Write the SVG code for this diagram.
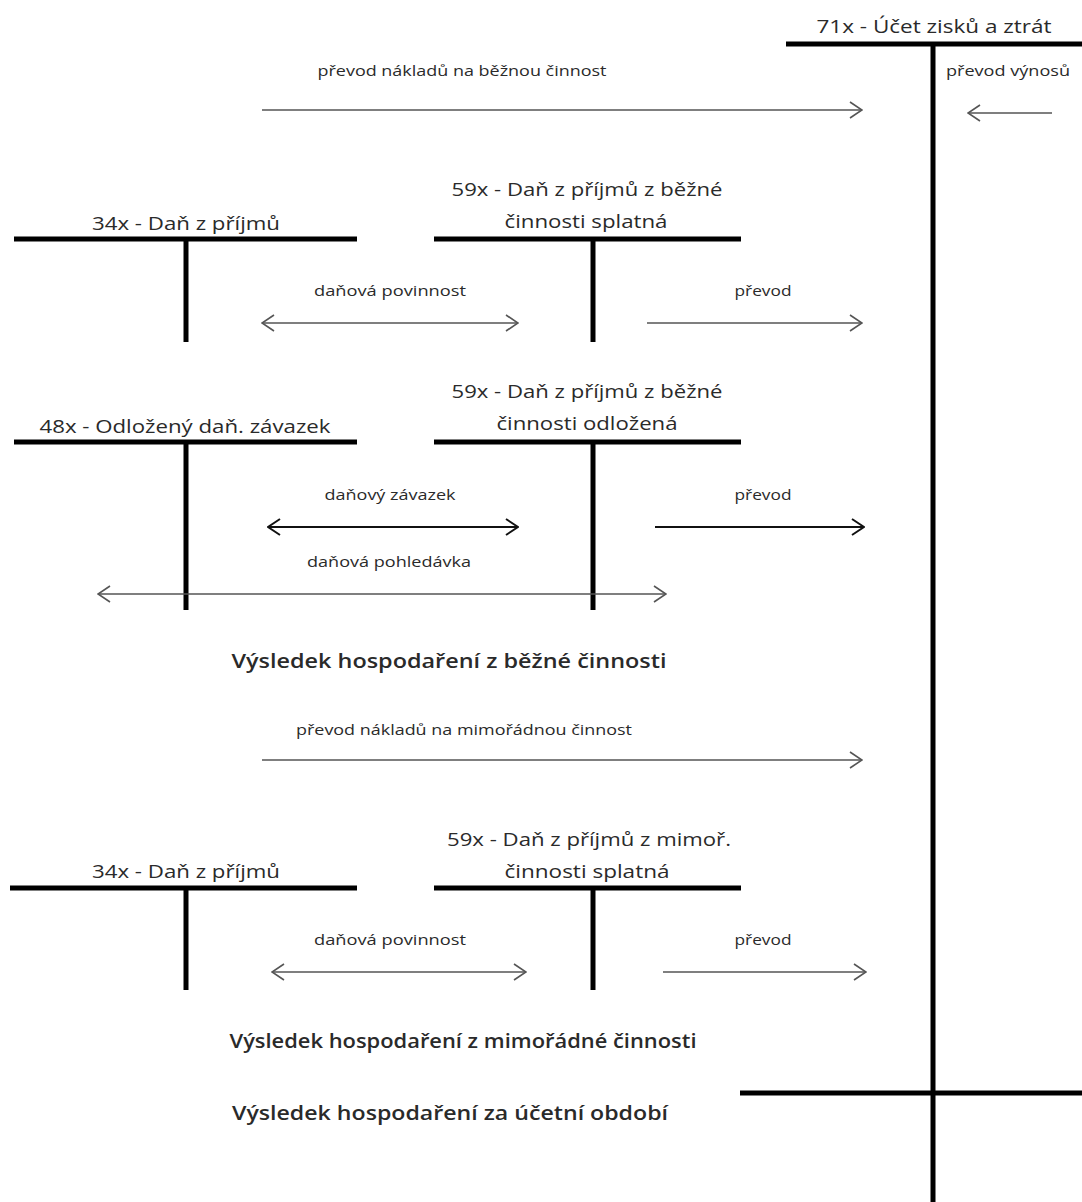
<svg xmlns="http://www.w3.org/2000/svg" width="1082" height="1202" viewBox="0 0 1082 1202">
<style>
.bar{stroke:#000;stroke-width:5;fill:none}
.t{font-family:"Open Sans","Liberation Sans",sans-serif;fill:#2a2a2a;text-anchor:middle}
.big{font-size:19px}
.sm{font-size:14px}
.res{font-size:19px;font-weight:600}
.a{stroke:#555;stroke-width:1.6;fill:none;marker-end:url(#hg)}
.ab{stroke:#555;stroke-width:1.6;fill:none;marker-end:url(#hg);marker-start:url(#hg)}
.k{stroke:#111;stroke-width:2;fill:none;marker-end:url(#hk)}
.kb{stroke:#111;stroke-width:2;fill:none;marker-end:url(#hk);marker-start:url(#hk)}
</style>
<defs>
<marker id="hg" viewBox="0 0 14 18" refX="13" refY="9" markerWidth="14" markerHeight="18" markerUnits="userSpaceOnUse" orient="auto-start-reverse">
<path d="M1,1 L13,9 L1,17" fill="none" stroke="#555" stroke-width="1.6"/>
</marker>
<marker id="hk" viewBox="0 0 14 18" refX="13" refY="9" markerWidth="14" markerHeight="18" markerUnits="userSpaceOnUse" orient="auto-start-reverse">
<path d="M1,1 L13,9 L1,17" fill="none" stroke="#111" stroke-width="2"/>
</marker>
</defs>
<rect width="1082" height="1202" fill="#fff"/>

<g id="ucet-71x">
<line class="bar" x1="786" y1="44" x2="1082" y2="44"/>
<line class="bar" x1="933" y1="44" x2="933" y2="1202"/>
<line class="bar" x1="740" y1="1093" x2="1082" y2="1093"/>
<text class="t big" x="934" y="33" textLength="235" lengthAdjust="spacingAndGlyphs">71x - Účet zisků a ztrát</text>
</g>

<g id="ucet-34x-a">
<line class="bar" x1="14" y1="239" x2="357" y2="239"/>
<line class="bar" x1="186" y1="239" x2="186" y2="342"/>
<text class="t big" x="186" y="230" textLength="188" lengthAdjust="spacingAndGlyphs">34x - Daň z příjmů</text>
</g>

<g id="ucet-59x-a">
<line class="bar" x1="434" y1="239" x2="741" y2="239"/>
<line class="bar" x1="593" y1="239" x2="593" y2="342"/>
<text class="t big" x="587" y="196" textLength="271" lengthAdjust="spacingAndGlyphs">59x - Daň z příjmů z běžné</text>
<text class="t big" x="586" y="228" textLength="163" lengthAdjust="spacingAndGlyphs">činnosti splatná</text>
</g>

<g id="ucet-48x">
<line class="bar" x1="14" y1="442" x2="357" y2="442"/>
<line class="bar" x1="186" y1="442" x2="186" y2="610"/>
<text class="t big" x="185" y="433" textLength="291" lengthAdjust="spacingAndGlyphs">48x - Odložený daň. závazek</text>
</g>

<g id="ucet-59x-b">
<line class="bar" x1="434" y1="442" x2="741" y2="442"/>
<line class="bar" x1="593" y1="442" x2="593" y2="610"/>
<text class="t big" x="587" y="398" textLength="271" lengthAdjust="spacingAndGlyphs">59x - Daň z příjmů z běžné</text>
<text class="t big" x="587" y="430" textLength="181" lengthAdjust="spacingAndGlyphs">činnosti odložená</text>
</g>

<g id="ucet-34x-b">
<line class="bar" x1="10" y1="888" x2="357" y2="888"/>
<line class="bar" x1="186" y1="888" x2="186" y2="990"/>
<text class="t big" x="186" y="878" textLength="188" lengthAdjust="spacingAndGlyphs">34x - Daň z příjmů</text>
</g>

<g id="ucet-59x-c">
<line class="bar" x1="434" y1="888" x2="741" y2="888"/>
<line class="bar" x1="593" y1="888" x2="593" y2="990"/>
<text class="t big" x="589" y="846" textLength="284" lengthAdjust="spacingAndGlyphs">59x - Daň z příjmů z mimoř.</text>
<text class="t big" x="587" y="878" textLength="165" lengthAdjust="spacingAndGlyphs">činnosti splatná</text>
</g>

<g id="connectors">
<line class="a" x1="262" y1="110" x2="862" y2="110"/>
<line class="a" x1="1052" y1="113" x2="968" y2="113"/>
<line class="ab" x1="262" y1="323" x2="518" y2="323"/>
<line class="a" x1="647" y1="323" x2="862" y2="323"/>
<line class="kb" x1="268" y1="527" x2="518" y2="527"/>
<line class="k" x1="655" y1="527" x2="864" y2="527"/>
<line class="ab" x1="98" y1="594" x2="666" y2="594"/>
<line class="a" x1="262" y1="760" x2="862" y2="760"/>
<line class="ab" x1="272" y1="972" x2="526" y2="972"/>
<line class="a" x1="663" y1="972" x2="866" y2="972"/>
</g>

<g id="labels">
<text class="t sm" x="1008" y="76" textLength="124" lengthAdjust="spacingAndGlyphs">převod výnosů</text>
<text class="t sm" x="462" y="76" textLength="289" lengthAdjust="spacingAndGlyphs">převod nákladů na běžnou činnost</text>
<text class="t sm" x="390" y="296" textLength="152" lengthAdjust="spacingAndGlyphs">daňová povinnost</text>
<text class="t sm" x="763" y="296" textLength="57" lengthAdjust="spacingAndGlyphs">převod</text>
<text class="t sm" x="390" y="500" textLength="131" lengthAdjust="spacingAndGlyphs">daňový závazek</text>
<text class="t sm" x="763" y="500" textLength="57" lengthAdjust="spacingAndGlyphs">převod</text>
<text class="t sm" x="389" y="567" textLength="164" lengthAdjust="spacingAndGlyphs">daňová pohledávka</text>
<text class="t res" x="449" y="668" textLength="435" lengthAdjust="spacingAndGlyphs">Výsledek hospodaření z běžné činnosti</text>
<text class="t sm" x="464" y="735" textLength="336" lengthAdjust="spacingAndGlyphs">převod nákladů na mimořádnou činnost</text>
<text class="t sm" x="390" y="945" textLength="152" lengthAdjust="spacingAndGlyphs">daňová povinnost</text>
<text class="t sm" x="763" y="945" textLength="57" lengthAdjust="spacingAndGlyphs">převod</text>
<text class="t res" x="463" y="1048" textLength="467" lengthAdjust="spacingAndGlyphs">Výsledek hospodaření z mimořádné činnosti</text>
<text class="t res" x="450" y="1120" textLength="436" lengthAdjust="spacingAndGlyphs">Výsledek hospodaření za účetní období</text>
</g>
</svg>
